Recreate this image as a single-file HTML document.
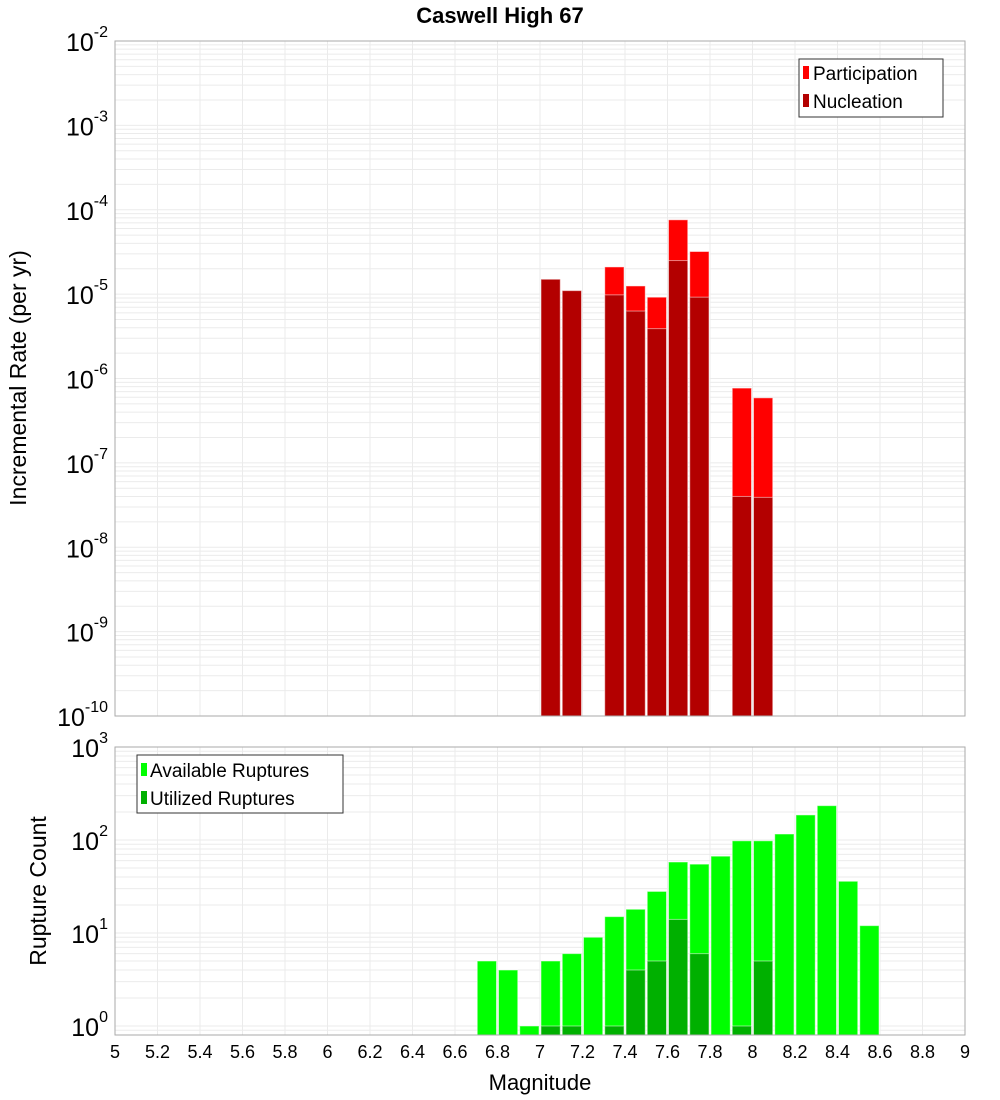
<!DOCTYPE html>
<html><head><meta charset="utf-8"><style>
body{margin:0;background:#fff;}
svg{display:block;font-family:"Liberation Sans","DejaVu Sans",sans-serif;}
</style></head><body>
<svg id="chart" width="1000" height="1100" xmlns="http://www.w3.org/2000/svg">
<text x="500" y="23" text-anchor="middle" font-size="22" font-weight="bold">Caswell High 67</text>
<g id="top"></g><g id="bot"></g>
</svg>
<script>
const magCenters = [7.05,7.15,7.35,7.45,7.55,7.65,7.75,7.95,8.05];
const participation = [1.5e-5,1.1e-5,2.1e-5,1.25e-5,9.2e-6,7.6e-5,3.2e-5,7.7e-7,5.9e-7];
const nucleation = [1.5e-5,1.1e-5,9.8e-6,6.3e-6,3.9e-6,2.5e-5,9.2e-6,4.0e-8,3.9e-8];
const countMags = [6.75,6.85,6.95,7.05,7.15,7.25,7.35,7.45,7.55,7.65,7.75,7.85,7.95,8.05,8.15,8.25,8.35,8.45,8.55];
const available = [5,4,1,5,6,9,15,18,28,58,55,67,98,98,116,186,234,36,12];
const utilized = [0,0,0,1,1,0,1,4,5,14,6,0,1,5,0,0,0,0,0];
const xTicks = [5,5.2,5.4,5.6,5.8,6,6.2,6.4,6.6,6.8,7,7.2,7.4,7.6,7.8,8,8.2,8.4,8.6,8.8,9];
const topExps = [-10,-9,-8,-7,-6,-5,-4,-3,-2];
const botExps = [0,1,2,3];

const NS="http://www.w3.org/2000/svg";
const L=115,R=965;
const xs=m=>L+(m-5)/4*(R-L);
function el(p,t,a){const e=document.createElementNS(NS,t);for(const k in a)e.setAttribute(k,a[k]);p.appendChild(e);return e;}
function panel(g,T,B,yTop,yBot,ys,exps,name){
  el(g,'rect',{x:L,y:T,width:R-L,height:B-T,fill:'#fff'});
  for(let e=Math.floor(Math.log10(yBot));e<Math.log10(yTop);e++)for(let k=1;k<10;k++){
    const v=k*Math.pow(10,e); if(v<yBot||v>yTop)continue; const y=ys(v);
    const ln=el(g,'line',{x1:L,x2:R,y1:y,y2:y,stroke:'#ebebeb','stroke-width':1});
    
    
  }
  xTicks.forEach(t=>{const ln=el(g,'line',{x1:xs(t),x2:xs(t),y1:T,y2:B,stroke:'#ebebeb','stroke-width':1});
    
    });
  exps.forEach(e=>{const y=ys(Math.pow(10,e));
    const t=el(g,'text',{x:108,y:y+10,'text-anchor':'end','font-size':25});
    
    
    t.textContent='10';
    const s=el(t,'tspan',{dy:-14,'font-size':16});s.textContent=String(e);});
}
function frame(g,T,B,name){const r=el(g,'rect',{x:L,y:T,width:R-L,height:B-T,fill:'none',stroke:'#aaa','stroke-width':1});
  
  }
function bar(g,m,v,ys,B,col,name){const w=(R-L)/40;const y=ys(v);
  const r=el(g,'rect',{x:xs(m)-w/2+1,y:y,width:w-2,height:B-y,fill:col,stroke:'#fff','stroke-opacity':0.5,'stroke-width':1});
  
  }

// top panel
const tg=document.getElementById('top');
const T1=41,B1=716;
const ys1=v=>B1-(Math.log10(v)+10)/8*(B1-T1);
panel(tg,T1,B1,1e-2,1e-10,ys1,topExps,'rate');
magCenters.forEach((m,i)=>bar(tg,m,participation[i],ys1,B1,'#ff0000','participation-bar'));
magCenters.forEach((m,i)=>bar(tg,m,nucleation[i],ys1,B1,'#b30000','nucleation-bar'));
frame(tg,T1,B1,'rate');
let t=el(tg,'text',{x:26,y:378,'text-anchor':'middle','font-size':23,transform:'rotate(-90 26 378)'});

t.textContent='Incremental Rate (per yr)';
// legend top
let lg=el(tg,'g',{});
el(lg,'rect',{x:799,y:59,width:144,height:58,fill:'#fff',stroke:'#333'});
el(lg,'rect',{x:803,y:66,width:6,height:13,fill:'#ff0000'});
el(lg,'rect',{x:803,y:94,width:6,height:13,fill:'#b30000'});
t=el(lg,'text',{x:813,y:80,'font-size':19});t.textContent='Participation';

t=el(lg,'text',{x:813,y:108,'font-size':19});t.textContent='Nucleation';


// bottom panel
const bg=document.getElementById('bot');
const T2=747,B2=1035;
const dec=93;
const ys2=v=>T2+(3-Math.log10(v))*dec;
panel(bg,T2,B2,1000,Math.pow(10,-(B2-T2-3*dec)/dec),ys2,botExps,'count');
countMags.forEach((m,i)=>bar(bg,m,available[i],ys2,B2,'#00ff00','available-bar'));
countMags.forEach((m,i)=>{if(utilized[i]>0)bar(bg,m,utilized[i],ys2,B2,'#00b000','utilized-bar');});
frame(bg,T2,B2,'count');
t=el(bg,'text',{x:46,y:891,'text-anchor':'middle','font-size':23,transform:'rotate(-90 46 891)'});

t.textContent='Rupture Count';
lg=el(bg,'g',{});
el(lg,'rect',{x:137,y:755,width:206,height:58,fill:'#fff',stroke:'#333'});
el(lg,'rect',{x:141,y:763,width:6,height:13,fill:'#00ff00'});
el(lg,'rect',{x:141,y:791,width:6,height:13,fill:'#00b000'});
t=el(lg,'text',{x:150,y:777,'font-size':19});t.textContent='Available Ruptures';

t=el(lg,'text',{x:150,y:805,'font-size':19});t.textContent='Utilized Ruptures';

xTicks.forEach(v=>{const tx=el(bg,'text',{x:xs(v),y:1058,'text-anchor':'middle','font-size':18});
  
  
  tx.textContent=String(Math.round(v*10)/10);});
t=el(bg,'text',{x:540,y:1090,'text-anchor':'middle','font-size':22});

t.textContent='Magnitude';
</script>
</body></html>
